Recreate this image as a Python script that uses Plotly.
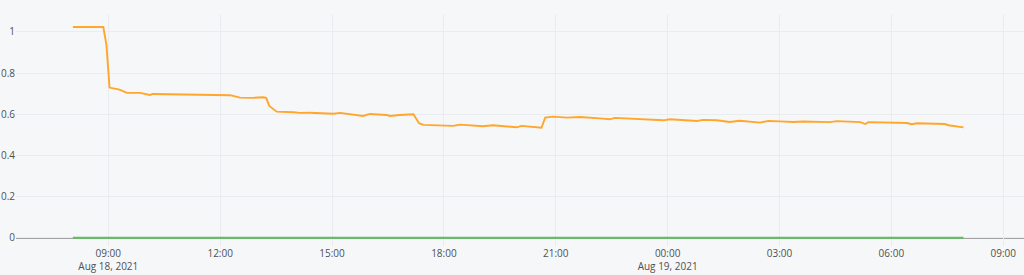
import plotly.graph_objects as go

# Orange series (time, value)
orange_times = [
    "2021-08-18 08:03", "2021-08-18 08:52", "2021-08-18 08:57", "2021-08-18 09:02",
    "2021-08-18 09:18", "2021-08-18 09:30", "2021-08-18 09:51", "2021-08-18 10:07",
    "2021-08-18 10:12", "2021-08-18 10:50", "2021-08-18 11:33", "2021-08-18 12:16",
    "2021-08-18 12:32", "2021-08-18 12:53", "2021-08-18 13:09", "2021-08-18 13:14",
    "2021-08-18 13:19", "2021-08-18 13:24", "2021-08-18 13:31", "2021-08-18 13:58",
    "2021-08-18 14:08", "2021-08-18 14:24", "2021-08-18 15:02", "2021-08-18 15:13",
    "2021-08-18 15:50", "2021-08-18 16:01", "2021-08-18 16:28", "2021-08-18 16:33",
    "2021-08-18 16:49", "2021-08-18 17:11", "2021-08-18 17:13", "2021-08-18 17:20",
    "2021-08-18 17:27", "2021-08-18 17:59", "2021-08-18 18:15", "2021-08-18 18:26",
    "2021-08-18 19:03", "2021-08-18 19:19", "2021-08-18 19:57", "2021-08-18 20:05",
    "2021-08-18 20:24", "2021-08-18 20:37", "2021-08-18 20:43", "2021-08-18 20:56",
    "2021-08-18 21:18", "2021-08-18 21:39", "2021-08-18 22:16", "2021-08-18 22:27",
    "2021-08-18 22:35", "2021-08-18 23:21", "2021-08-18 23:53", "2021-08-19 00:04",
    "2021-08-19 00:47", "2021-08-19 00:57", "2021-08-19 01:19", "2021-08-19 01:40",
    "2021-08-19 01:56", "2021-08-19 02:29", "2021-08-19 02:42", "2021-08-19 03:01",
    "2021-08-19 03:22", "2021-08-19 03:38", "2021-08-19 04:21", "2021-08-19 04:32",
    "2021-08-19 05:10", "2021-08-19 05:18", "2021-08-19 05:23", "2021-08-19 06:25",
    "2021-08-19 06:33", "2021-08-19 06:41", "2021-08-19 07:26", "2021-08-19 07:32",
    "2021-08-19 07:56",
]
orange_values = [
    1.024, 1.024, 0.937, 0.730,
    0.720, 0.704, 0.704, 0.694,
    0.699, 0.698, 0.696, 0.693,
    0.681, 0.680, 0.683, 0.680,
    0.641, 0.631, 0.613, 0.610,
    0.607, 0.608, 0.603, 0.607,
    0.592, 0.602, 0.597, 0.592,
    0.597, 0.600, 0.589, 0.557,
    0.549, 0.547, 0.544, 0.550,
    0.542, 0.547, 0.537, 0.544,
    0.537, 0.535, 0.584, 0.589,
    0.584, 0.587, 0.579, 0.576,
    0.583, 0.578, 0.571, 0.576,
    0.568, 0.573, 0.571, 0.563,
    0.569, 0.560, 0.568, 0.566,
    0.563, 0.565, 0.562, 0.567,
    0.562, 0.553, 0.562, 0.558,
    0.552, 0.557, 0.553, 0.547,
    0.537,
]

# Green series (flat at zero)
green_times = ["2021-08-18 08:03", "2021-08-19 07:56"]
green_values = [0, 0]

y_ticks = [0, 0.2, 0.4, 0.6, 0.8, 1]
y_tick_labels = ["0", "0.2", "0.4", "0.6", "0.8", "1"]

x_range = ["2021-08-18 06:31:30", "2021-08-19 09:33:24"]
y_range = [-0.039, 1.087]

fig = go.Figure()
fig.add_trace(go.Scatter(
    x=green_times, y=green_values, mode="lines",
    line=dict(color="#6cb86c", width=2.2), showlegend=False, hoverinfo="skip",
))
fig.add_trace(go.Scatter(
    x=orange_times, y=orange_values, mode="lines",
    line=dict(color="#ffa62b", width=1.9),
    showlegend=False,
))

# gray zero line beneath the traces, above the grid
fig.add_shape(
    type="line", xref="paper", yref="y", x0=0, x1=1, y0=0, y1=0,
    line=dict(color="#a3a3a3", width=2), layer="between",
)

fig.update_layout(
    width=1024, height=275,
    margin=dict(l=16, r=0, t=14, b=29),
    paper_bgcolor="#f6f7f9",
    plot_bgcolor="#f6f7f9",
    font=dict(family="Open Sans, Noto Sans, sans-serif", size=10, color="#505050"),
    showlegend=False,
)
fig.update_xaxes(
    type="date", range=x_range,
    showgrid=True, gridcolor="#eaecef", gridwidth=1,
    zeroline=False, showline=False,
    dtick=3 * 3600 * 1000, tick0="2021-08-18 00:00",
    tickformat="%H:%M\n%b %d, %Y",
    ticks="",
)
fig.update_yaxes(
    range=y_range, tickvals=y_ticks, ticktext=y_tick_labels,
    showgrid=True, gridcolor="#eaecef", gridwidth=1,
    zeroline=False, showline=False, ticks="",
)

fig.write_html("out.html")
